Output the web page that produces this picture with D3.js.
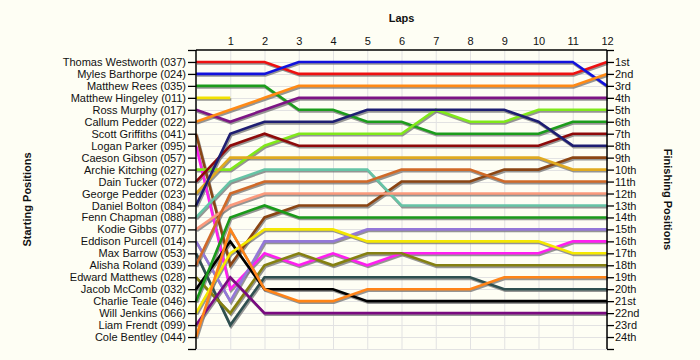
<!DOCTYPE html>
<html>
<head>
<meta charset="utf-8">
<script src="https://cdn.jsdelivr.net/npm/d3@7"></script>
<style>
  html, body { margin: 0; padding: 0; background: #fefef4; }
  svg { display: block; }
  text { font-family: "Liberation Sans", Arial, sans-serif; fill: #111; }
</style>
</head>
<body>
<svg id="chart" width="700" height="360"></svg>
<script>
// ---- data ----
const drivers = [
  "Thomas Westworth (037)", "Myles Barthorpe (024)", "Matthew Rees (035)", "Matthew Hingeley (011)",
  "Ross Murphy (017)", "Callum Pedder (022)", "Scott Griffiths (041)", "Logan Parker (095)",
  "Caeson Gibson (057)", "Archie Kitching (027)", "Dain Tucker (072)", "George Pedder (023)",
  "Daniel Bolton (084)", "Fenn Chapman (088)", "Kodie Gibbs (077)", "Eddison Purcell (014)",
  "Max Barrow (053)", "Alisha Roland (039)", "Edward Matthews (028)", "Jacob McComb (032)",
  "Charlie Teale (046)", "Will Jenkins (066)", "Liam Frendt (099)", "Cole Bentley (044)"
];
const finishLabels = ["1st","2nd","3rd","4th","5th","6th","7th","8th","9th","10th","11th","12th",
  "13th","14th","15th","16th","17th","18th","19th","20th","21st","22nd","23rd","24th"];
const laps = [1,2,3,4,5,6,7,8,9,10,11,12];

// race position at lap 0 (start) .. lap 12
const p037 = [1,1,1,2,2,2,2,2,2,2,2,2,1];
const p024 = [2,2,2,1,1,1,1,1,1,1,1,1,3];
const p035 = [3,3,3,5,5,6,6,7,7,7,7,6,6];
const p011 = [4,4];
const p017 = [5,6,5,4,4,4,4,4,4,4,4,4,4];
const p022 = [6,5,4,3,3,3,3,3,3,3,3,3,2];
const p041 = [7,18,14,13,13,13,11,11,11,10,10,9,9];
const p095 = [8,20,17,18,17,18,17,17,17,17,17,16,16];
const p057 = [];
const p027 = [10,10,8,7,7,7,7,5,6,6,5,5,5];
const p072 = [11,8,7,8,8,8,8,8,8,8,8,7,7];
const p023 = [12,9,9,9,9,9,9,9,9,9,9,10,10];
const p084 = [13,7,6,6,6,5,5,5,5,5,6,8,8];
const p088 = [14,11,10,10,10,10,13,13,13,13,13,13,13];
const p077 = [15,13,12,12,12,12,12,12,12,12,12,12,12];
const p014 = [16,21,16,16,16,15,15,15,15,15,15,15,15];
const p053 = [17,23,19,19,19,19,19,19,19,20,20,20,20];
const p039 = [18,12,11,11,11,11,10,10,10,11,11,11,11];
const p028 = [19,22,18,17,18,17,17,18,18,18,18,18,18];
const p032 = [20,16,20,20,20,21,21,21,21,21,21,21,21];
const p046 = [21,14,13,14,14,14,14,14,14,14,14,14,14];
const p066 = [22,17,15,15,15,16,16,16,16,16,16,17,17];
const p099 = [23,19,22,22,22,22,22,22,22,22,22,22,22];
const p044 = [24,15,20,21,21,20,20,20,20,19,19,19,19];

const series = [p037,p024,p035,p011,p017,p022,p041,p095,p057,p027,p072,p023,
                p084,p088,p077,p014,p053,p039,p028,p032,p046,p066,p099,p044];

const palette = ["#ee1111","#1212dd","#1c9c1c","#f2e200","#7d1585","#ff8a14","#8b4513","#ff1ff0",
                 "#999999","#80e81a","#8e0a0a","#e0aa20","#1e1e72","#66c4a6","#fb9a7c","#9478d8",
                 "#2f5050","#d06a28","#858010","#000000","#1a9a1a","#f5e800","#7a0a80","#ff8418"];

// ---- drawing ----
const svg = d3.select("#chart");
const x = d3.scaleLinear().domain([0, 12]).range([196, 607]);
const y = d3.scaleLinear().domain([0, 25]).range([50, 349]);

// grid
const grid = svg.append("g").attr("stroke", "#e2e2e2").attr("stroke-width", 1);
grid.selectAll("line.v").data(laps).join("line")
  .attr("x1", d => x(d) + 0.5).attr("x2", d => x(d) + 0.5)
  .attr("y1", y(0)).attr("y2", y(25));
grid.selectAll("line.h").data(d3.range(1, 26)).join("line")
  .attr("y1", d => Math.round(y(d)) + 0.5).attr("y2", d => Math.round(y(d)) + 0.5)
  .attr("x1", x(0)).attr("x2", x(12));

// lines
const line = d3.line().x((d, i) => x(i)).y(d => y(d));
const lineG = svg.append("g");
series.forEach((s, i) => {
  if (s.length < 2) return;
  lineG.append("path").attr("d", line(s)).attr("fill", "none")
    .attr("stroke", "#7a7a7a").attr("stroke-opacity", 0.8).attr("stroke-width", 2.6)
    .attr("stroke-linejoin", "miter").attr("transform", "translate(1,1.6)");
});
series.forEach((s, i) => {
  if (s.length < 2) return;
  lineG.append("path").attr("d", line(s)).attr("fill", "none")
    .attr("stroke", palette[i]).attr("stroke-width", 2.6)
    .attr("stroke-linejoin", "miter");
});

// axes
const posTicks = d3.range(0, 26);
const leftAxis = d3.axisLeft(y).tickValues(posTicks).tickSize(8).tickPadding(2)
  .tickFormat(d => (d >= 1 && d <= 24) ? drivers[d - 1] : "");
const rightAxis = d3.axisRight(y).tickValues(posTicks).tickSize(7).tickPadding(1)
  .tickFormat(d => (d >= 1 && d <= 24) ? finishLabels[d - 1] : "");
const topAxis = d3.axisTop(x).tickValues(laps).tickSize(0).tickPadding(5);

function style(g) {
  g.select(".domain").remove();
  g.selectAll(".tick line").attr("stroke", "#000").attr("stroke-width", 1.3);
  g.selectAll("text").attr("font-size", 11).attr("fill", "#111")
    .style("font-family", "'Liberation Sans', Arial, sans-serif");
}
svg.append("g").attr("transform", `translate(${x(0)},0)`).call(leftAxis).call(style);
svg.append("g").attr("transform", `translate(${x(12)},0)`).call(rightAxis).call(style);
svg.append("g").attr("transform", `translate(0,${y(0)})`).call(topAxis).call(style);

// axis lines
svg.append("line").attr("x1", x(0)).attr("x2", x(0)).attr("y1", y(0)).attr("y2", y(25))
  .attr("stroke", "#000").attr("stroke-width", 1.5);
svg.append("line").attr("x1", x(12)).attr("x2", x(12)).attr("y1", y(0)).attr("y2", y(25))
  .attr("stroke", "#000").attr("stroke-width", 1.5);
svg.append("line").attr("x1", x(0)).attr("x2", x(12)).attr("y1", y(0)).attr("y2", y(0))
  .attr("stroke", "#000").attr("stroke-width", 1.5);

// titles
svg.append("text").attr("x", (x(0) + x(12)) / 2).attr("y", 22).attr("text-anchor", "middle")
  .attr("font-size", 11).attr("font-weight", "bold").text("Laps");
svg.append("text").attr("transform", `translate(31,${y(12.5)}) rotate(-90)`)
  .attr("text-anchor", "middle").attr("font-size", 11).attr("font-weight", "bold")
  .text("Starting Positions");
svg.append("text").attr("transform", `translate(664,${y(12.5)}) rotate(90)`)
  .attr("text-anchor", "middle").attr("font-size", 11).attr("font-weight", "bold")
  .text("Finishing Positions");
</script>
</body>
</html>
